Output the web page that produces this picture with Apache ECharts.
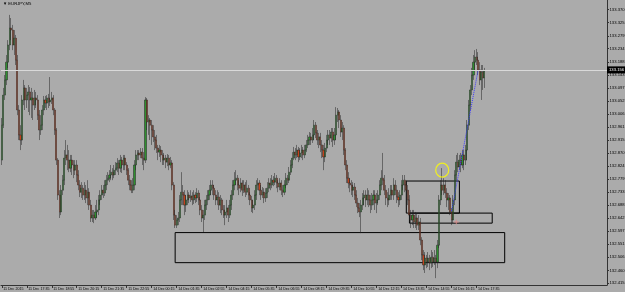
<!DOCTYPE html>
<html><head><meta charset="utf-8">
<script src="https://cdn.jsdelivr.net/npm/echarts@6/dist/echarts.min.js"></script>
<style>html,body{margin:0;padding:0;background:#ababab}#c{width:625px;height:292px}</style>
</head><body><div id="c"></div>
<script>
const symbolName = '\u25BC EURJPY,M5';
const timeLabels = ['11 Dec 2015','11 Dec 17:35','11 Dec 18:55','11 Dec 20:15','11 Dec 21:35','11 Dec 22:55',
  '14 Dec 00:15','14 Dec 01:35','14 Dec 02:55','14 Dec 04:15','14 Dec 05:35','14 Dec 06:55','14 Dec 08:15',
  '14 Dec 09:35','14 Dec 10:55','14 Dec 12:15','14 Dec 13:35','14 Dec 14:55','14 Dec 16:15','14 Dec 17:35'];
const priceTicks = [132.415,132.460,132.506,132.551,132.597,132.642,132.688,132.733,132.779,132.824,132.870,
  132.915,132.961,133.006,133.052,133.097,133.143,133.188,133.234,133.279,133.325,133.370];
const lastPrice = 133.156;
// [open, close, low, high]
const candles = [
[132.845,132.967,132.828,132.992],[132.967,133.072,132.957,133.097],[133.072,133.125,133.055,133.142],[133.125,133.187,133.107,133.212],
[133.187,133.247,133.167,133.264],[133.247,133.306,133.229,133.352],[133.306,133.299,133.264,133.341],[133.299,133.247,133.229,133.317],
[133.247,133.271,133.212,133.299],[133.271,133.194,133.177,133.282],[133.194,133.020,133.002,133.212],[133.020,132.933,132.915,133.037],
[132.933,132.915,132.880,132.967],[132.915,133.055,132.898,133.072],[133.055,133.097,133.037,133.125],[133.097,133.055,133.020,133.107],
[133.055,133.072,133.027,133.097],[133.072,133.083,133.013,133.107],[133.083,133.055,133.002,133.100],[133.055,133.062,132.992,133.097],
[133.062,133.037,132.985,133.083],[133.037,133.062,133.020,133.090],[133.062,133.055,133.027,133.083],[133.055,133.002,132.985,133.072],
[133.002,132.950,132.915,133.020],[132.950,132.967,132.933,133.002],[132.967,133.020,132.950,133.037],[133.020,133.055,133.002,133.069],
[133.055,133.044,133.027,133.069],[133.044,133.062,133.020,133.072],[133.062,133.048,133.027,133.076],[133.048,133.055,133.034,133.135],
[133.055,133.062,133.041,133.083],[133.062,133.020,133.002,133.072],[133.020,132.950,132.933,133.027],[132.950,132.845,132.828,132.957],
[132.845,132.723,132.706,132.852],[132.723,132.664,132.643,132.740],[132.664,132.740,132.653,132.758],[132.740,132.775,132.723,132.793],
[132.775,132.852,132.758,132.880],[132.852,132.863,132.828,132.915],[132.863,132.845,132.810,132.898],[132.845,132.817,132.803,132.880],
[132.817,132.845,132.803,132.863],[132.845,132.828,132.793,132.863],[132.828,132.810,132.782,132.845],[132.810,132.828,132.793,132.845],
[132.828,132.793,132.768,132.845],[132.793,132.758,132.740,132.810],[132.758,132.733,132.716,132.775],[132.733,132.747,132.713,132.768],
[132.747,132.723,132.706,132.758],[132.723,132.740,132.706,132.768],[132.740,132.713,132.695,132.758],[132.713,132.733,132.688,132.775],
[132.733,132.688,132.671,132.747],[132.688,132.643,132.629,132.706],[132.643,132.653,132.629,132.671],[132.653,132.643,132.625,132.671],
[132.643,132.664,132.636,132.688],[132.664,132.671,132.643,132.706],[132.671,132.706,132.653,132.723],[132.706,132.723,132.688,132.740],
[132.723,132.740,132.706,132.758],[132.740,132.730,132.713,132.758],[132.730,132.758,132.720,132.775],[132.758,132.775,132.740,132.793],
[132.775,132.782,132.758,132.803],[132.782,132.793,132.768,132.810],[132.793,132.803,132.775,132.828],[132.803,132.793,132.775,132.817],
[132.793,132.810,132.782,132.828],[132.810,132.817,132.793,132.838],[132.817,132.835,132.803,132.852],[132.835,132.817,132.793,132.845],
[132.817,132.845,132.803,132.863],[132.845,132.828,132.800,132.856],[132.828,132.852,132.810,132.863],[132.852,132.828,132.810,132.863],
[132.828,132.810,132.793,132.838],[132.810,132.775,132.758,132.817],[132.775,132.758,132.740,132.793],[132.758,132.740,132.730,132.775],
[132.740,132.758,132.730,132.782],[132.758,132.828,132.740,132.845],[132.828,132.863,132.810,132.880],[132.863,132.870,132.845,132.880],
[132.870,132.863,132.845,132.880],[132.863,132.873,132.852,132.887],[132.873,132.852,132.828,132.887],[132.852,132.845,132.810,132.873],
[132.845,133.055,132.835,133.065],[133.055,132.978,132.950,133.062],[132.978,132.985,132.933,133.002],[132.985,132.967,132.915,132.992],
[132.967,132.950,132.898,132.985],[132.950,132.926,132.908,132.967],[132.926,132.915,132.880,132.950],[132.915,132.887,132.870,132.933],
[132.887,132.873,132.845,132.898],[132.873,132.880,132.856,132.898],[132.880,132.863,132.838,132.894],[132.863,132.845,132.828,132.880],
[132.845,132.852,132.828,132.870],[132.852,132.838,132.817,132.863],[132.838,132.852,132.824,132.866],[132.852,132.828,132.810,132.863],
[132.828,132.835,132.817,132.856],[132.835,132.758,132.740,132.845],[132.758,132.653,132.636,132.768],[132.653,132.618,132.608,132.671],
[132.618,132.636,132.608,132.653],[132.636,132.643,132.618,132.664],[132.643,132.706,132.629,132.723],[132.706,132.733,132.688,132.803],
[132.733,132.723,132.688,132.758],[132.723,132.688,132.653,132.740],[132.688,132.706,132.664,132.723],[132.706,132.723,132.688,132.740],
[132.723,132.713,132.695,132.733],[132.713,132.720,132.699,132.740],[132.720,132.706,132.688,132.733],[132.706,132.723,132.692,132.740],
[132.723,132.713,132.695,132.733],[132.713,132.730,132.699,132.747],[132.730,132.706,132.688,132.740],[132.706,132.671,132.653,132.716],
[132.671,132.643,132.629,132.688],[132.643,132.653,132.594,132.671],[132.653,132.688,132.636,132.706],[132.688,132.706,132.671,132.723],
[132.706,132.723,132.688,132.740],[132.723,132.740,132.706,132.758],[132.740,132.758,132.723,132.775],[132.758,132.747,132.723,132.775],
[132.747,132.723,132.706,132.758],[132.723,132.706,132.688,132.740],[132.706,132.716,132.688,132.740],[132.716,132.688,132.671,132.733],
[132.688,132.706,132.660,132.723],[132.706,132.671,132.653,132.713],[132.671,132.653,132.643,132.688],[132.653,132.664,132.618,132.688],
[132.664,132.678,132.643,132.706],[132.678,132.653,132.629,132.688],[132.653,132.688,132.643,132.706],[132.688,132.723,132.671,132.740],
[132.723,132.758,132.706,132.775],[132.758,132.775,132.740,132.803],[132.775,132.782,132.758,132.810],[132.782,132.758,132.740,132.793],
[132.758,132.747,132.723,132.775],[132.747,132.765,132.733,132.782],[132.765,132.740,132.720,132.775],[132.740,132.758,132.730,132.775],
[132.758,132.733,132.716,132.768],[132.733,132.747,132.723,132.775],[132.747,132.723,132.706,132.758],[132.723,132.706,132.688,132.733],
[132.706,132.678,132.664,132.720],[132.678,132.688,132.660,132.706],[132.688,132.723,132.671,132.740],[132.723,132.758,132.706,132.775],
[132.758,132.765,132.740,132.782],[132.765,132.740,132.723,132.775],[132.740,132.723,132.706,132.758],[132.723,132.733,132.713,132.751],
[132.733,132.713,132.695,132.747],[132.713,132.730,132.699,132.747],[132.730,132.747,132.713,132.768],[132.747,132.765,132.733,132.782],
[132.765,132.758,132.740,132.782],[132.758,132.775,132.747,132.793],[132.775,132.768,132.754,132.789],[132.768,132.782,132.758,132.800],
[132.782,132.765,132.747,132.793],[132.765,132.751,132.733,132.775],[132.751,132.765,132.740,132.782],[132.765,132.740,132.723,132.775],
[132.740,132.733,132.716,132.758],[132.733,132.758,132.723,132.775],[132.758,132.782,132.747,132.800],[132.782,132.775,132.758,132.793],
[132.775,132.803,132.765,132.821],[132.803,132.828,132.793,132.845],[132.828,132.852,132.817,132.873],[132.852,132.873,132.845,132.891],
[132.873,132.863,132.845,132.887],[132.863,132.880,132.852,132.898],[132.880,132.856,132.838,132.891],[132.856,132.870,132.845,132.887],
[132.870,132.880,132.852,132.898],[132.880,132.863,132.845,132.891],[132.863,132.880,132.852,132.898],[132.880,132.898,132.873,132.915],
[132.898,132.915,132.887,132.933],[132.915,132.926,132.898,132.943],[132.926,132.915,132.898,132.940],[132.915,132.933,132.905,132.957],
[132.933,132.967,132.915,132.985],[132.967,132.940,132.922,132.978],[132.940,132.915,132.898,132.950],[132.915,132.926,132.887,132.940],
[132.926,132.898,132.873,132.940],[132.898,132.880,132.852,132.915],[132.880,132.856,132.810,132.898],[132.856,132.887,132.838,132.905],
[132.887,132.915,132.873,132.933],[132.915,132.933,132.898,132.950],[132.933,132.922,132.898,132.950],[132.922,132.943,132.908,132.957],
[132.943,132.915,132.891,132.957],[132.915,132.933,132.898,132.957],[132.933,133.002,132.915,133.030],[133.002,133.013,132.978,133.027],
[133.013,132.985,132.957,133.020],[132.985,132.943,132.926,133.002],[132.943,132.957,132.915,132.978],[132.957,132.880,132.863,132.967],
[132.880,132.828,132.810,132.887],[132.828,132.782,132.765,132.845],[132.782,132.765,132.747,132.803],[132.765,132.758,132.733,132.782],
[132.758,132.740,132.723,132.775],[132.740,132.751,132.716,132.768],[132.751,132.723,132.706,132.765],[132.723,132.695,132.681,132.740],
[132.695,132.678,132.660,132.713],[132.678,132.664,132.646,132.695],[132.664,132.688,132.590,132.706],[132.688,132.713,132.671,132.730],
[132.713,132.723,132.688,132.740],[132.723,132.706,132.681,132.740],[132.706,132.723,132.688,132.747],[132.723,132.706,132.681,132.740],
[132.706,132.688,132.660,132.723],[132.688,132.706,132.671,132.730],[132.706,132.723,132.688,132.740],[132.723,132.695,132.671,132.740],
[132.695,132.706,132.660,132.730],[132.706,132.723,132.688,132.740],[132.723,132.758,132.706,132.775],[132.758,132.782,132.740,132.810],
[132.782,132.775,132.758,132.870],[132.775,132.740,132.723,132.793],[132.740,132.713,132.688,132.758],[132.713,132.706,132.681,132.733],
[132.706,132.723,132.688,132.747],[132.723,132.740,132.706,132.758],[132.740,132.723,132.706,132.758],[132.723,132.758,132.706,132.782],
[132.758,132.740,132.723,132.775],[132.740,132.716,132.695,132.758],[132.716,132.706,132.681,132.733],[132.706,132.723,132.688,132.740],
[132.723,132.758,132.706,132.775],[132.758,132.775,132.740,132.793],[132.775,132.758,132.733,132.793],[132.758,132.740,132.706,132.775],
[132.740,132.706,132.688,132.758],[132.706,132.653,132.636,132.723],[132.653,132.636,132.608,132.671],[132.636,132.653,132.618,132.671],
[132.653,132.629,132.608,132.671],[132.629,132.643,132.608,132.664],[132.643,132.618,132.601,132.660],[132.618,132.629,132.601,132.653],
[132.629,132.566,132.548,132.643],[132.566,132.514,132.496,132.576],[132.514,132.479,132.461,132.531],[132.479,132.503,132.451,132.524],
[132.503,132.489,132.468,132.514],[132.489,132.503,132.472,132.524],[132.503,132.486,132.461,132.514],[132.486,132.506,132.468,132.531],
[132.506,132.489,132.472,132.524],[132.489,132.503,132.479,132.531],[132.503,132.489,132.433,132.514],[132.489,132.548,132.468,132.566],
[132.548,132.706,132.538,132.723],[132.706,132.758,132.688,132.775],[132.758,132.740,132.723,132.817],[132.740,132.758,132.723,132.782],
[132.758,132.730,132.713,132.775],[132.730,132.706,132.681,132.747],[132.706,132.713,132.671,132.730],[132.713,132.664,132.653,132.723],
[132.664,132.636,132.618,132.678],[132.636,132.706,132.625,132.723],[132.706,132.793,132.688,132.810],[132.793,132.838,132.775,132.863],
[132.838,132.821,132.803,132.870],[132.821,132.845,132.810,132.863],[132.845,132.828,132.803,132.870],[132.828,132.863,132.817,132.880],
[132.863,132.845,132.810,132.880],[132.845,132.880,132.828,132.898],[132.880,132.967,132.845,132.985],[132.967,133.037,132.950,133.055],
[133.037,133.090,133.020,133.107],[133.090,133.142,133.072,133.167],[133.142,133.187,133.125,133.212],[133.187,133.205,133.160,133.229],
[133.205,133.194,133.177,133.233],[133.194,133.160,133.142,133.222],[133.160,133.125,133.107,133.187],[133.125,133.153,133.055,133.177],
[133.153,133.132,133.090,133.177],[133.132,133.156,133.097,133.167]
];
const emptySlots = 78;
const bigZone = [['111', 132.592], ['322', 132.487]];
const upperZone = [['259', 132.772], ['293', 132.660]];
const smallZone = [['261', 132.660], ['314', 132.625]];
const trendLine = [['288', 132.667], ['305', 133.160]];
const circleMark = ['282', 132.810];
const crossMark = ['291', 132.629];

const total = candles.length + emptySlots;
const categories = [];
for (let i = 0; i < total; i++) categories.push(String(i));
const every = 16;
const showTick = (i) => i % every === 0 && (i / every) < timeLabels.length;
const zone = (z) => [{ xAxis: z[0][0], yAxis: z[0][1] }, { xAxis: z[1][0], yAxis: z[1][1] }];
const fam = "'Liberation Sans', Arial, sans-serif";

const chart = echarts.init(document.getElementById('c'), null, { renderer: 'canvas' });
chart.setOption({
  animation: false,
  backgroundColor: '#ababab',
  textStyle: { fontFamily: fam },
  title: { text: symbolName, left: 3, top: 2, padding: 0, textStyle: { fontSize: 4.2, color: '#000', fontWeight: 'normal', fontFamily: fam } },
  grid: { left: 1, right: 18, top: 0, bottom: 7, containLabel: false, outerBoundsMode: 'none' },
  xAxis: {
    type: 'category', data: categories, boundaryGap: true,
    axisLine: { show: true, lineStyle: { color: '#333', width: 1 } },
    axisTick: { show: true, alignWithLabel: true, interval: (i) => showTick(i), length: 3, lineStyle: { color: '#333' } },
    axisLabel: { show: true, interval: (i) => showTick(i), hideOverlap: false, showMinLabel: true, showMaxLabel: true,
      formatter: (v) => timeLabels[Number(v) / every] || '',
      fontSize: 3.6, color: '#000', align: 'left', margin: 1.5, padding: [0, 0, 0, 1.5], fontFamily: fam },
    splitLine: { show: false }
  },
  yAxis: {
    type: 'value', position: 'right', min: 132.409, max: 133.404, scale: true,
    axisLine: { show: true, lineStyle: { color: '#333', width: 1 } },
    axisTick: { show: true, length: 2, customValues: priceTicks, lineStyle: { color: '#333' } },
    axisLabel: { show: true, customValues: priceTicks, hideOverlap: false, formatter: (v) => v.toFixed(3),
      fontSize: 4.2, color: '#000', margin: 2.5, fontFamily: fam },
    splitLine: { show: false }
  },
  series: [
    {
      type: 'candlestick', data: candles, barWidth: 1.6, z: 3,
      itemStyle: { color: '#2f8f2f', color0: '#c4421c', borderColor: '#222222', borderColor0: '#222222', borderWidth: 0.5 },
      markLine: {
        silent: true, symbol: 'none', animation: false,
        lineStyle: { color: '#d9d9d9', width: 1, type: 'solid' },
        label: { show: true, position: 'end', formatter: lastPrice.toFixed(3), backgroundColor: '#000', color: '#fff',
          fontSize: 4.2, fontFamily: fam, padding: [2, 1, 1, 2], distance: 0 },
        data: [{ yAxis: lastPrice }]
      },
      markArea: {
        silent: true,
        itemStyle: { color: 'rgba(0,0,0,0)', borderColor: '#000', borderWidth: 1 },
        data: [zone(bigZone), zone(upperZone), zone(smallZone)]
      }
    },
    {
      type: 'line', data: trendLine, symbol: 'none', z: 4,
      lineStyle: { type: 'dotted', color: '#3838ff', width: 1 }
    },
    {
      type: 'scatter', data: [circleMark], symbol: 'circle', symbolSize: [13, 14], z: 5,
      itemStyle: { color: 'rgba(0,0,0,0)', borderColor: '#ffff00', borderWidth: 1.3 }
    },
    {
      type: 'scatter', data: [crossMark], symbol: 'path://M2,0H3V2H5V3H3V5H2V3H0V2H2Z', symbolSize: 5, z: 5,
      itemStyle: { color: '#e08a8a' }
    }
  ]
});
</script></body></html>
